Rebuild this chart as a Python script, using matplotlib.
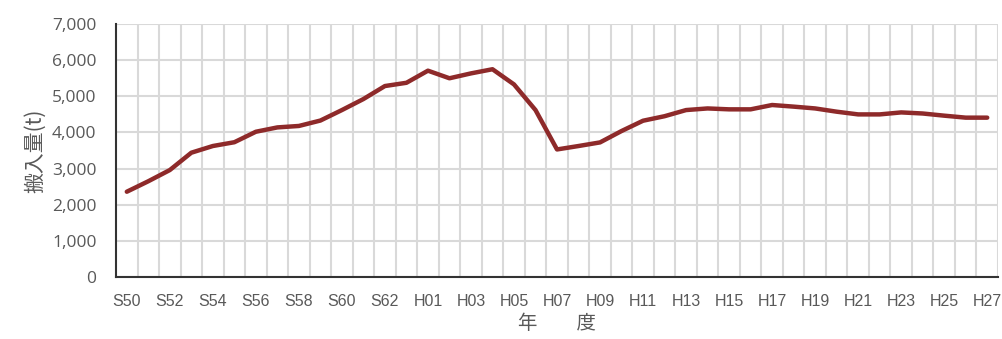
import numpy as np
import matplotlib
matplotlib.use("Agg")
import matplotlib.pyplot as plt

plt.rcParams['font.family'] = ['Open Sans', 'Noto Sans CJK JP', 'DejaVu Sans']

# 年度: S50..S63, H01..H27
years = [f"S{y}" for y in range(50, 64)] + [f"H{y:02d}" for y in range(1, 28)]

# 搬入量 (t)
values = [2360, 2650, 2960, 3440, 3625, 3730, 4020, 4140, 4180, 4330,
          4620, 4925, 5285, 5375, 5710, 5500, 5635, 5750, 5330, 4620,
          3530, 3625, 3725, 4040, 4325, 4450, 4620, 4665, 4640, 4640,
          4760, 4715, 4665, 4575, 4500, 4500, 4555, 4525, 4465, 4410,
          4410]

yticks = [0, 1000, 2000, 3000, 4000, 5000, 6000, 7000]

text_gray = '#595959'
grid_gray = '#d9d9d9'
line_red = '#8e2a2a'

fig = plt.figure(figsize=(10.03, 3.39), dpi=100)
ax = fig.add_axes([0.1157, 0.1829, 0.8793, 0.7461])

x = np.arange(len(years))
ax.plot(x, values, color=line_red, lw=3.2, solid_joinstyle='round',
        solid_capstyle='round', zorder=3)

ax.set_xlim(-0.5, len(years) - 0.5)
ax.set_ylim(0, 7000)

# category labels every other year
ax.set_xticks(x[::2])
ax.set_xticklabels(years[::2], family=['Liberation Sans', 'DejaVu Sans'])
ax.set_xticks(np.arange(0.5, len(years), 1), minor=True)
ax.set_yticks(yticks)
ax.set_yticklabels([f"{v:,}" for v in yticks])

ax.grid(False)
ax.grid(True, which='minor', axis='x', color=grid_gray, lw=1.5, zorder=0)
ax.grid(True, which='major', axis='y', color=grid_gray, lw=1.5, zorder=0)

ax.tick_params(axis='both', which='both', length=0, colors=text_gray)
ax.tick_params(axis='x', which='major', labelsize=11.5, pad=12)
ax.tick_params(axis='y', labelsize=12.5, pad=14)

for side in ['top', 'right']:
    ax.spines[side].set_visible(False)
for side in ['left', 'bottom']:
    ax.spines[side].set_color('#333333')
    ax.spines[side].set_linewidth(1.5)

ax.set_ylabel('搬入量(t)', color=text_gray, fontsize=15,
              family=['Noto Sans CJK JP', 'DejaVu Sans'], labelpad=4)
ax.set_xlabel('年　　度', color=text_gray, fontsize=14,
              family=['Noto Sans CJK JP', 'DejaVu Sans'], labelpad=3)

fig.savefig('out.png', dpi=100)
